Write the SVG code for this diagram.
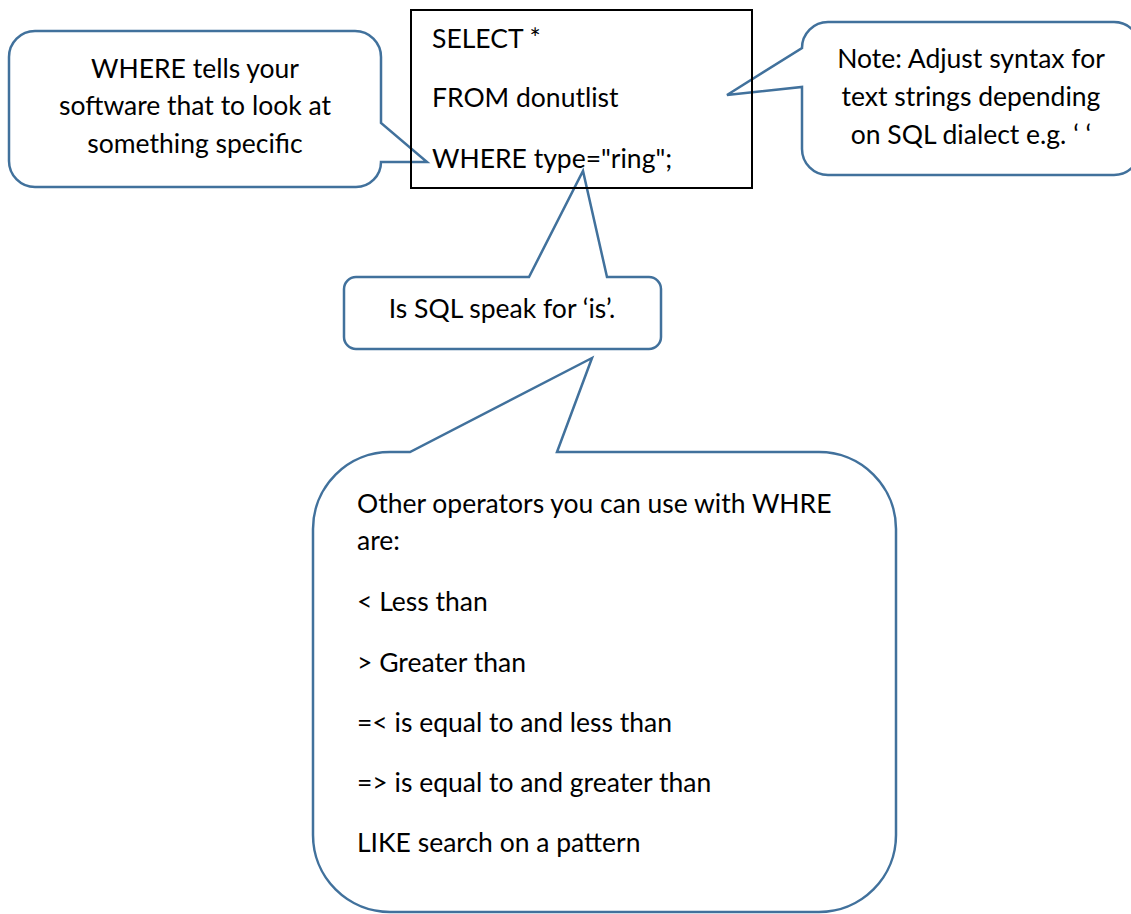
<svg xmlns="http://www.w3.org/2000/svg" width="1131" height="914" viewBox="0 0 1131 914">
<style>
.callout{fill:#ffffff;stroke:#41719C;stroke-width:2.5;stroke-linejoin:miter}
.box{fill:none;stroke:#000000;stroke-width:2}
.t{font-family:Lato,"Liberation Sans",sans-serif;font-size:26.5px;fill:#000000}
.c{text-anchor:middle}
</style>
<rect width="1131" height="914" fill="#ffffff"/>
<g id="connectors"></g>
<g id="note-where">
<path class="callout" d="M35,31 H355 A26,26 0 0 1 381,57 V123 L427,162 H381 A25,25 0 0 1 356,187 H35 A26,26 0 0 1 9,161 V57 A26,26 0 0 1 35,31 Z"/>
<text class="t c" x="195" y="78">WHERE tells your</text>
<text class="t c" x="195" y="115">software that to look at</text>
<text class="t c" x="195" y="153">something specific</text>
</g>
<g id="note-syntax">
<path class="callout" d="M828,22 H1114 A26,26 0 0 1 1140,48 V149 A26,26 0 0 1 1114,175 H828 A26,26 0 0 1 802,149 V87 L727,95 L802,48 A26,26 0 0 1 828,22 Z"/>
<text class="t c" x="971" y="68">Note: Adjust syntax for</text>
<text class="t c" x="971" y="106">text strings depending</text>
<text class="t c" x="971" y="144">on SQL dialect e.g. ‘ ‘</text>
</g>
<g id="note-is">
<path class="callout" d="M356,277 H529 L583,171 L607,277 H649 A12,12 0 0 1 661,289 V337 A12,12 0 0 1 649,349 H356 A12,12 0 0 1 344,337 V289 A12,12 0 0 1 356,277 Z"/>
<text class="t c" x="502" y="318">Is SQL speak for ‘is’.</text>
</g>
<g id="note-operators">
<path class="callout" d="M390,452 H410 L592,358 L557,452 H819 A77,77 0 0 1 896,529 V835 A77,77 0 0 1 819,912 H390 A77,77 0 0 1 313,835 V529 A77,77 0 0 1 390,452 Z"/>
<text class="t" x="357" y="513">Other operators you can use with WHRE</text>
<text class="t" x="357" y="550">are:</text>
<text class="t" x="357" y="611">&lt; Less than</text>
<text class="t" x="357" y="672">&gt; Greater than</text>
<text class="t" x="357" y="732">=&lt; is equal to and less than</text>
<text class="t" x="357" y="792">=&gt; is equal to and greater than</text>
<text class="t" x="357" y="852">LIKE search on a pattern</text>
</g>
<g id="sql-query">
<rect class="box" x="411" y="10" width="341" height="178"/>
<text class="t" x="432" y="48">SELECT *</text>
<text class="t" x="432" y="107">FROM donutlist</text>
<text class="t" x="432" y="168">WHERE type="ring";</text>
</g>
</svg>
